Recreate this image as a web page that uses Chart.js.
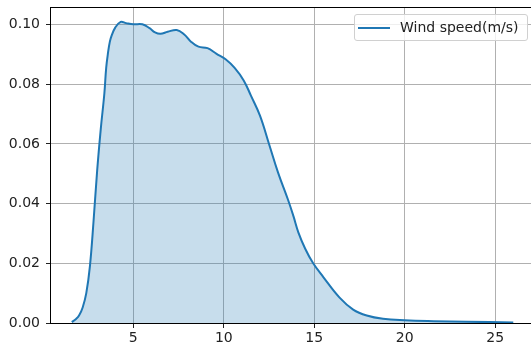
<!DOCTYPE html>
<html>
<head>
<meta charset="utf-8">
<script src="https://cdn.jsdelivr.net/npm/chart.js@4"></script>
<style>
  html, body { margin: 0; padding: 0; background: #fff; overflow: hidden; }
  #wrap { position: relative; width: 531px; height: 350px; overflow: hidden; }
  #legend {
    position: absolute; left: 354px; top: 14px; width: 172px; height: 25px;
    border: 1px solid #d0d0d0; border-radius: 3px; background: rgba(255,255,255,0.8);
    font: 14px "DejaVu Sans", sans-serif; color: #222;
  }
  #legend .swatch { position: absolute; left: 3px; top: 12px; width: 32px; height: 2px; background: #1f77b4; }
  #legend .text { position: absolute; left: 45px; top: 4px; white-space: nowrap; }
</style>
</head>
<body>
<div id="wrap">
  <canvas id="kde" width="535" height="350"></canvas>
  <div id="legend"><span class="swatch"></span><span class="text"></span></div>
</div>
<script>
// KDE of wind speed, sampled along the curve
const WIND_SPEED = [1.6, 1.8, 2.0, 2.2, 2.4, 2.6, 2.8, 3.0, 3.2, 3.4,
  3.5, 3.6, 3.7, 3.8, 4.0, 4.3, 4.6, 5.0, 5.5, 5.9, 6.2, 6.5,
  6.9, 7.4, 7.8, 8.2, 8.6, 9.1, 9.6, 10.1, 10.6, 11.1,
  11.5, 12.0, 12.5, 13.0, 13.55, 13.85, 14.12, 14.5, 14.94, 15.5,
  16.4, 17.15, 17.9, 18.8, 20.0, 21.6, 23.4, 26.0];
const DENSITY = [0.0003, 0.0012, 0.0025, 0.0052, 0.010, 0.019, 0.034, 0.051, 0.065, 0.077,
  0.0855, 0.0905, 0.0942, 0.0963, 0.0990, 0.1009, 0.1005, 0.1001, 0.1001, 0.0988, 0.0974, 0.0969,
  0.0976, 0.0982, 0.0968, 0.0942, 0.0926, 0.0921, 0.0902, 0.0884, 0.0855, 0.0813,
  0.0762, 0.0695, 0.0600, 0.0504, 0.0413, 0.0358, 0.0304, 0.0249, 0.0200, 0.0154,
  0.0085, 0.0045, 0.0025, 0.0014, 0.0009, 0.0006, 0.0004, 0.0002];
const X_TICKS = [5, 10, 15, 20, 25];
const Y_TICKS = [0, 0.02, 0.04, 0.06, 0.08, 0.10];
const SERIES_LABEL = "Wind speed(m/s)";

const points = WIND_SPEED.map((x, i) => ({ x: x, y: DENSITY[i] }));

// --- Legend (html, drawn over the plot) ---
document.querySelector("#legend .text").textContent = SERIES_LABEL;

// axes frame on all four sides
const frame = {
  id: "frame",
  afterDraw(chart) {
    const { ctx, chartArea: a } = chart;
    ctx.save();
    ctx.strokeStyle = "#000";
    ctx.lineWidth = 1;
    ctx.strokeRect(a.left - 0.5, a.top + 0.5, a.right - a.left + 0.5, a.bottom - a.top);
    ctx.restore();
  },
};

const tickFont = { family: "DejaVu Sans", size: 14 };

new Chart(document.getElementById("kde"), {
  type: "line",
  data: {
    datasets: [{
      label: SERIES_LABEL,
      data: points,
      borderColor: "#1f77b4",
      borderWidth: 2,
      backgroundColor: "rgba(31,119,180,0.25)",
      fill: "origin",
      pointRadius: 0,
      tension: 0.4,
    }],
  },
  options: {
    responsive: false,
    animation: false,
    layout: { padding: { top: 7, left: 0, right: 0, bottom: 0 } },
    plugins: { legend: { display: false }, tooltip: { enabled: false } },
    scales: {
      x: {
        type: "linear",
        min: 0.45,
        max: 27.2,
        afterBuildTicks: (s) => { s.ticks = X_TICKS.map((v) => ({ value: v })); },
        afterFit: (s) => { s.height = 27; s.paddingLeft = 0; s.paddingRight = 0; },
        grid: { color: "#b0b0b0", lineWidth: 1, tickColor: "#222", tickLength: 5 },
        border: { display: false },
        ticks: { color: "#222", font: tickFont, padding: 2, maxRotation: 0 },
      },
      y: {
        min: 0,
        max: 0.1059,
        afterBuildTicks: (s) => { s.ticks = Y_TICKS.map((v) => ({ value: v })); },
        afterFit: (s) => { s.width = 51; s.paddingTop = 0; s.paddingBottom = 0; },
        grid: { color: "#b0b0b0", lineWidth: 1, tickColor: "#222", tickLength: 5 },
        border: { display: false },
        ticks: { color: "#222", font: tickFont, padding: 6, callback: (v) => v.toFixed(2) },
      },
    },
  },
  plugins: [frame],
});
</script>
</body>
</html>
